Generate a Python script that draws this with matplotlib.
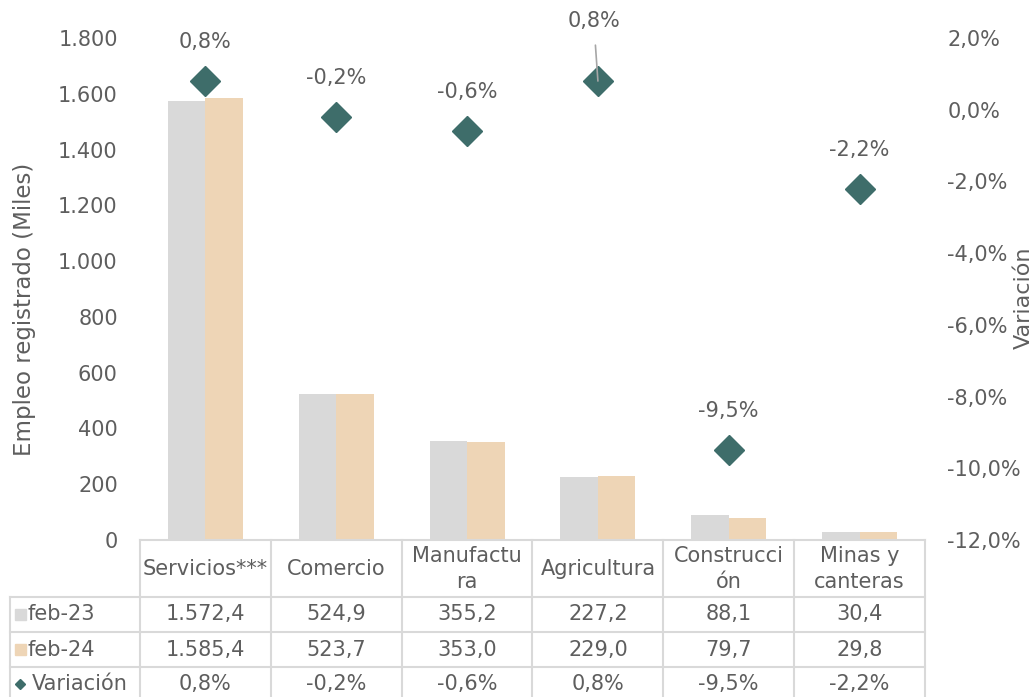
import matplotlib
matplotlib.use("Agg")
import matplotlib.pyplot as plt
import numpy as np
from matplotlib.ticker import FuncFormatter, MultipleLocator
from matplotlib.transforms import blended_transform_factory

categories = ["Servicios***", "Comercio", "Manufactu\nra", "Agricultura", "Construcci\nón", "Minas y\ncanteras"]
series_names = ["feb-23", "feb-24", "Variación"]
feb23 = [1572.4, 524.9, 355.2, 227.2, 88.1, 30.4]
feb24 = [1585.4, 523.7, 353.0, 229.0, 79.7, 29.8]
variacion = [0.8, -0.2, -0.6, 0.8, -9.5, -2.2]

C_GRAY = "#D9D9D9"
C_PEACH = "#EED5B6"
C_DIAM = "#3E6D6A"
C_TEXT = "#5E5E5E"
C_LINE = "#D9D9D9"

plt.rcParams['font.family'] = ['DejaVu Sans']
plt.rcParams['text.color'] = C_TEXT
FS = 15

def es_num(v, dec=1):
    s = f"{v:,.{dec}f}"
    return s.replace(",", "X").replace(".", ",").replace("X", ".")

def es_pct(v):
    return es_num(v, 1) + "%"

W, H = 1035, 697
fig = plt.figure(figsize=(W / 100, H / 100), dpi=100)
L, R, T, B = 140, 925, 38, 540
ax = fig.add_axes([L / W, 1 - B / H, (R - L) / W, (B - T) / H])
ax2 = ax.twinx()

x = np.arange(len(categories))
bw = 0.286
ax.bar(x - bw / 2, feb23, bw, color=C_GRAY, zorder=2)
ax.bar(x + bw / 2, feb24, bw, color=C_PEACH, zorder=2)
ax.set_xlim(-0.5, len(categories) - 0.5)
ax.set_ylim(0, 1800)
ax.yaxis.set_major_locator(MultipleLocator(200))
ax.yaxis.set_major_formatter(FuncFormatter(lambda v, p: es_num(v, 0)))
ax.set_xticks([])

ax2.set_ylim(-12, 2)
ax2.yaxis.set_major_locator(MultipleLocator(2))
ax2.yaxis.set_major_formatter(FuncFormatter(lambda v, p: es_pct(v)))
ax2.plot(x, variacion, linestyle="none", marker="D", markersize=15,
         color=C_DIAM, zorder=5)

for a in (ax, ax2):
    for s in a.spines.values():
        s.set_visible(False)
    a.tick_params(axis="y", length=0, labelsize=FS, colors=C_TEXT)
ax.tick_params(axis="y", pad=16)
ax2.tick_params(axis="y", pad=16)
for lab in ax2.get_yticklabels():
    lab.set_horizontalalignment("left")

ax.set_ylabel("Empleo registrado (Miles)", fontsize=16.5, color=C_TEXT)
ax.yaxis.set_label_coords((25 - L) / (R - L), (B - 309) / (B - T))
ax2.set_ylabel("Variación", fontsize=16, color=C_TEXT, rotation=90)
ax2.yaxis.set_label_coords((1024 - L) / (R - L), (B - 298) / (B - T))
ax2.yaxis.label.set_verticalalignment("center")
ax.yaxis.label.set_verticalalignment("center")

# data labels
for i, v in enumerate(variacion):
    if i == 3:
        ax2.annotate(es_pct(v), xy=(x[i], v), xytext=(-3, 43), textcoords="offset points",
                     ha="center", va="center", fontsize=FS, color=C_TEXT, zorder=6,
                     arrowprops=dict(arrowstyle="-", color="#A6A6A6", lw=1.2,
                                     shrinkA=8, shrinkB=0))
    else:
        ax2.annotate(es_pct(v), xy=(x[i], v), xytext=(0, 28), textcoords="offset points",
                     ha="center", va="center", fontsize=FS, color=C_TEXT)

# data table
tr = blended_transform_factory(ax.transData, ax.transAxes)
def yf(px):
    return (B - px) / (B - T)

row_y = [540, 597, 632, 667, 702]
left_x = -0.5 - (L - 10) / ((R - L) / len(categories))
lw = 1.5
ax.plot([-0.5, len(categories) - 0.5], [yf(540)] * 2, transform=tr, color=C_LINE, lw=lw, clip_on=False, zorder=3)
for yy in row_y[1:]:
    ax.plot([left_x, len(categories) - 0.5], [yf(yy)] * 2, transform=tr, color=C_LINE, lw=lw, clip_on=False)
ax.plot([left_x, left_x], [yf(597), yf(702)], transform=tr, color=C_LINE, lw=lw, clip_on=False)
for i in range(len(categories) + 1):
    xb = i - 0.5
    ax.plot([xb, xb], [yf(540), yf(702)], transform=tr, color=C_LINE, lw=lw, clip_on=False)

def mid(a, b):
    return yf((a + b) / 2)

for i, c in enumerate(categories):
    ax.text(x[i], mid(540, 598), c, transform=tr, ha="center", va="center",
            fontsize=FS, color=C_TEXT, linespacing=1.35)
    ax.text(x[i], mid(597, 632), es_num(feb23[i]), transform=tr, ha="center", va="center", fontsize=FS)
    ax.text(x[i], mid(632, 667), es_num(feb24[i]), transform=tr, ha="center", va="center", fontsize=FS)
    ax.text(x[i], mid(667, 700), es_pct(variacion[i]), transform=tr, ha="center", va="center", fontsize=FS)

# row headers with legend keys
fx = lambda px: px / W
fy = lambda px: 1 - px / H
fig.patches.append(plt.Rectangle((fx(15), fy(620)), 11 / W, 11 / H, transform=fig.transFigure, color=C_GRAY))
fig.patches.append(plt.Rectangle((fx(15), fy(655)), 11 / W, 11 / H, transform=fig.transFigure, color=C_PEACH))
fig.lines.append(plt.Line2D([fx(20)], [fy(684)], marker="D", markersize=5, color=C_DIAM, transform=fig.transFigure))
fig.text(fx(28), fy(614.5), series_names[0], ha="left", va="center", fontsize=FS)
fig.text(fx(28), fy(649.5), series_names[1], ha="left", va="center", fontsize=FS)
fig.text(fx(32), fy(684), series_names[2], ha="left", va="center", fontsize=FS)

fig.savefig("out.png", dpi=100)
